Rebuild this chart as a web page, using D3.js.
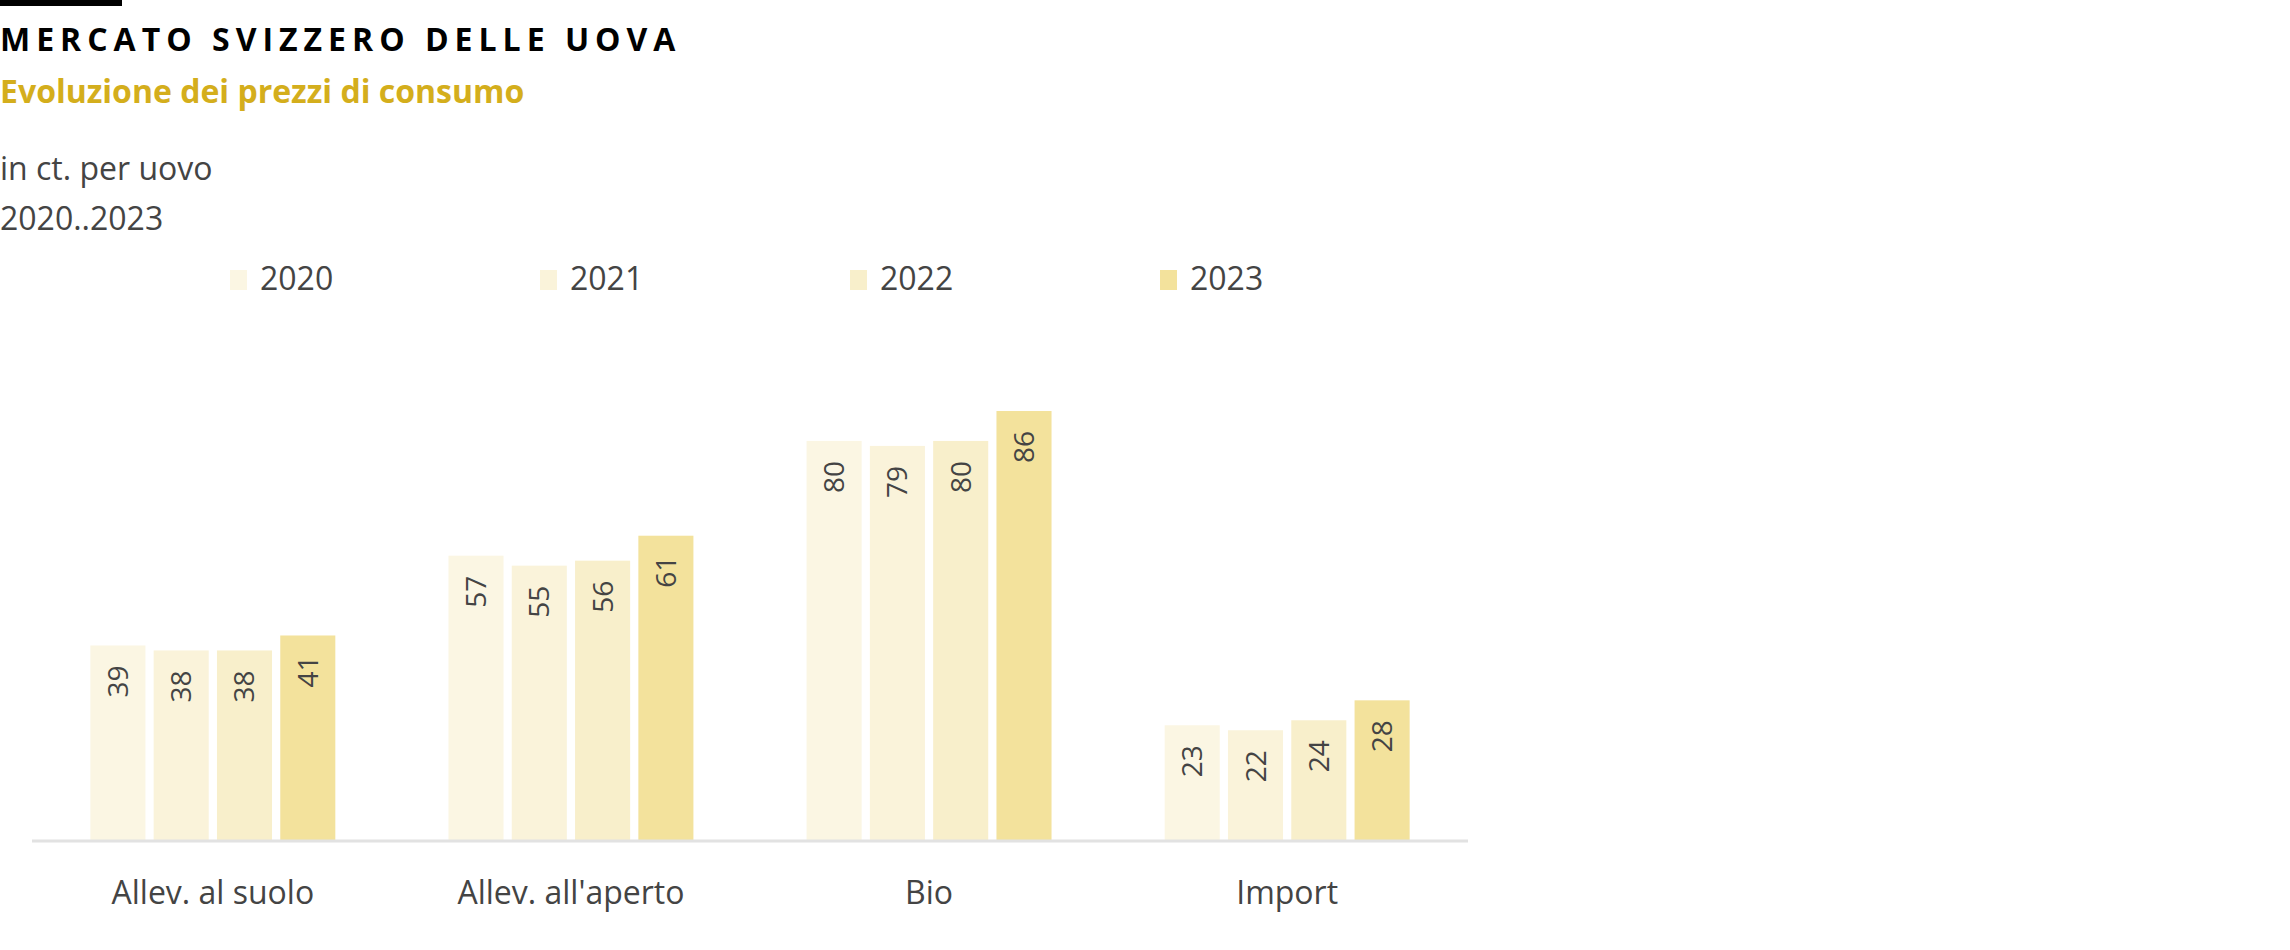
<!DOCTYPE html>
<html>
<head>
<meta charset="utf-8">
<script src="https://cdn.jsdelivr.net/npm/d3@7"></script>
<style>
  body { margin: 0; background: #fff; font-family: "Open Sans", sans-serif; }
</style>
</head>
<body>
<svg id="chart" width="2290" height="950"></svg>
<script>
const categories = ["Allev. al suolo", "Allev. all'aperto", "Bio", "Import"];
const years = ["2020", "2021", "2022", "2023"];
const values2020 = [39, 57, 80, 23];
const values2021 = [38, 55, 79, 22];
const values2022 = [38, 56, 80, 24];
const values2023 = [41, 61, 86, 28];
const colors = ["#fbf6e3", "#faf3da", "#f8efcb", "#f3e29c"];

const series = [values2020, values2021, values2022, values2023];
const svg = d3.select("#chart");
const textColor = "#444";

// header
svg.append("rect").attr("x", 0).attr("y", 0).attr("width", 122).attr("height", 6).attr("fill", "#000");
svg.append("text").attr("x", 0).attr("y", 51)
  .attr("font-size", 32).attr("font-weight", 700).attr("letter-spacing", 6)
  .attr("fill", "#000").text("MERCATO SVIZZERO DELLE UOVA");
svg.append("text").attr("x", 0).attr("y", 103)
  .attr("font-size", 32).attr("font-weight", 700).attr("fill", "#d4ae1c")
  .text("Evoluzione dei prezzi di consumo");
svg.append("text").attr("x", 0).attr("y", 180)
  .attr("font-size", 32).attr("fill", textColor).text("in ct. per uovo");
svg.append("text").attr("x", 0).attr("y", 230)
  .attr("font-size", 32).attr("fill", textColor).text("2020..2023");

// legend
const legendX = d3.scalePoint().domain(years).range([230, 1160]);
const legend = svg.append("g").selectAll("g").data(years).join("g")
  .attr("transform", (d) => `translate(${legendX(d)},268)`);
legend.append("rect").attr("width", 17).attr("height", 20).attr("y", 2)
  .attr("fill", (d, i) => colors[i]);
legend.append("text").attr("x", 30).attr("y", 22)
  .attr("font-size", 32).attr("fill", textColor).text((d) => d);

// scales
const baseline = 840;
const x0 = d3.scaleBand().domain(categories).range([32, 1468]).paddingInner(0.27).paddingOuter(0.14);
const x1 = d3.scaleBand().domain(years).range([0, x0.bandwidth()]).padding(0.13);
const y = d3.scaleLinear().domain([0, 86]).range([baseline, 411]);

const groups = svg.append("g").selectAll("g").data(categories).join("g")
  .attr("transform", (d) => `translate(${x0(d)},0)`);

groups.selectAll("rect")
  .data((c, ci) => years.map((yr, i) => ({ yr, i, v: series[i][ci] })))
  .join("rect")
  .attr("x", (d) => x1(d.yr))
  .attr("y", (d) => y(d.v))
  .attr("width", x1.bandwidth())
  .attr("height", (d) => baseline - y(d.v))
  .attr("fill", (d) => colors[d.i]);

groups.selectAll("text")
  .data((c, ci) => years.map((yr, i) => ({ yr, i, v: series[i][ci] })))
  .join("text")
  .attr("transform", (d) => `translate(${x1(d.yr) + x1.bandwidth() / 2 + 10},${y(d.v) + 20}) rotate(-90)`)
  .attr("text-anchor", "end")
  .attr("font-size", 28).attr("fill", textColor)
  .text((d) => d.v);

// axis
svg.append("line").attr("x1", 32).attr("x2", 1468).attr("y1", baseline + 1).attr("y2", baseline + 1)
  .attr("stroke", "#e2e2e2").attr("stroke-width", 3);
svg.append("g").selectAll("text").data(categories).join("text")
  .attr("x", (d) => x0(d) + x0.bandwidth() / 2)
  .attr("y", 904)
  .attr("text-anchor", "middle")
  .attr("font-size", 32).attr("fill", textColor)
  .text((d) => d);
</script>
</body>
</html>
